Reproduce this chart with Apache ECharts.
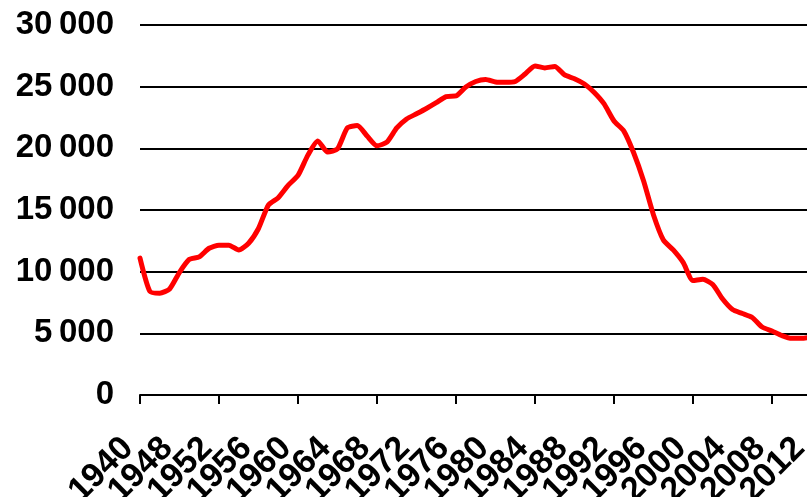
<!DOCTYPE html>
<html>
<head>
<meta charset="utf-8">
<script src="https://cdn.jsdelivr.net/npm/echarts@6/dist/echarts.min.js"></script>
<style>
  html, body { margin: 0; padding: 0; background: #ffffff; }
  #chart { width: 807px; height: 497px; }
</style>
</head>
<body>
<div id="chart"></div>
<script>
// years (1941-1944 missing in the source series)
let years = ['1940'];
for (let y = 1945; y <= 2012; y++) {
  years.push(String(y));
}

let values = [
  11100, 8400, 8250, 8600, 9950, 11000, 11200, 11900, 12150, 12150,
  11750, 12300, 13500, 15400, 16000, 17000, 17800, 19450, 20600, 19700,
  19950, 21650, 21850, 21000, 20200, 20500, 21650, 22380, 22800, 23230,
  23700, 24200, 24250, 24970, 25420, 25580, 25380, 25350, 25420, 26030,
  26680, 26520, 26640, 25950, 25650, 25220, 24530, 23600, 22220, 21400,
  19620, 17350, 14600, 12570, 11760, 10750, 9280, 9380, 8960, 7780,
  6930, 6610, 6280, 5510, 5190, 4820, 4600, 4600, 4700
];

let yTicks = [0, 5000, 10000, 15000, 20000, 25000, 30000];

let chart = echarts.init(document.getElementById('chart'), null, { renderer: 'canvas' });

let option = {
  backgroundColor: '#ffffff',
  animation: false,
  grid: {
    left: 140,
    top: 25,
    right: -4.5,
    bottom: 102,
    containLabel: false,
    outerBoundsMode: 'none'
  },
  xAxis: {
    type: 'category',
    data: years,
    boundaryGap: false,
    axisLine: {
      show: true,
      lineStyle: { color: '#000', width: 2 }
    },
    axisTick: {
      show: true,
      interval: 7,
      length: 9,
      lineStyle: { color: '#000', width: 2 }
    },
    axisLabel: {
      // keep every category so no edge label gets dropped, blank all but every 4th
      interval: 0,
      formatter: function (val, idx) {
        return idx % 4 === 0 ? val : '';
      },
      rotate: 45,
      margin: 60,
      verticalAlign: 'bottom',
      hideOverlap: false,
      color: '#000',
      fontFamily: 'Liberation Sans, Arial',
      fontWeight: 'bold',
      fontSize: 34
    },
    splitLine: { show: false }
  },
  yAxis: {
    type: 'value',
    min: yTicks[0],
    max: yTicks[yTicks.length - 1],
    interval: 5000,
    axisLine: { show: false },
    axisTick: { show: false },
    axisLabel: {
      margin: 26,
      color: '#000',
      fontFamily: 'Liberation Sans, Arial',
      fontWeight: 'bold',
      fontSize: 33,
      formatter: function (v) {
        if (v === 0) return '0';
        return (v / 1000) + '\u2009000';
      }
    },
    splitLine: {
      show: true,
      lineStyle: { color: '#000', width: 2 }
    }
  },
  series: [{
    type: 'line',
    data: values,
    showSymbol: false,
    smooth: 0.2,
    lineStyle: { color: '#ff0000', width: 5, join: 'round', cap: 'round' }
  }]
};

chart.setOption(option);
</script>
</body>
</html>
